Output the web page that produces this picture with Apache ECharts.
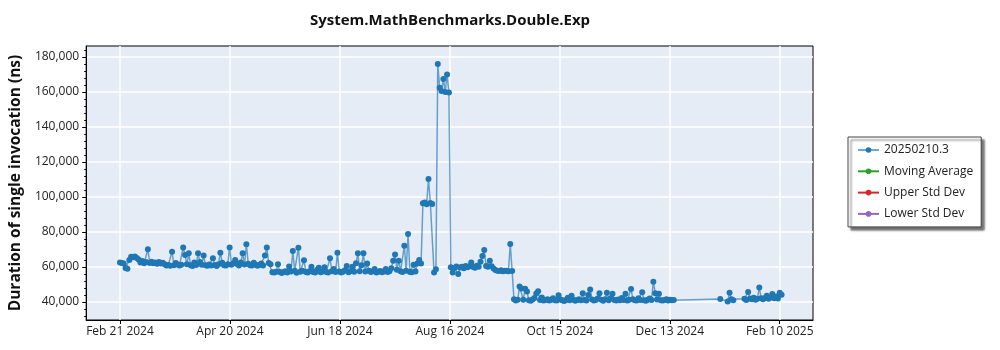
<!DOCTYPE html>
<html>
<head>
<meta charset="utf-8">
<title>System.MathBenchmarks.Double.Exp</title>
<script src="https://cdn.jsdelivr.net/npm/echarts@6/dist/echarts.min.js"></script>
<style>
  html, body { margin: 0; padding: 0; background: #ffffff; }
  #chart { width: 1000px; height: 350px; }
</style>
</head>
<body>
<div id="chart"></div>
<script>
// Benchmark run durations (ns), one value per day, grouped by stretch of runs.
const runsFromFeb21 = [
  62500, 62300, 62000, 59400, 59000, 64000, 65900, 65600, 66000, 65200,
  64300, 62600, 63400, 62200, 62800, 70100, 62300, 63000, 62100, 62500,
  61800, 62900, 62000, 62400, 61500, 60900, 61200, 60700, 68700, 61000,
  62300, 61400, 60800, 61300, 71200, 66800, 61500, 67800, 61000, 60600,
  62600, 61200, 67800, 62900, 61300, 66500, 61000, 60700, 61400, 60800,
  65000, 61200, 60600, 61500, 68200, 62400, 61000, 60800, 61600, 71200,
  61300, 62100, 64000, 61700, 60900, 62600, 67800, 61400, 73000, 61800,
  61000, 60800, 62400, 61300, 60700, 61200, 62000, 60900, 66500, 71200,
  62300, 61500
];
const runsFromMay13 = [
  57000, 56800, 57300, 61500, 57100, 56600, 57200, 57500,
  56900, 60300, 57400, 69100, 57800, 56700, 71000, 57300, 57900, 63800,
  57200, 56800, 57500, 60200, 57100, 56900, 58300, 59600, 57000, 57400,
  59800, 57200, 56900, 65000, 57600, 58900, 57100, 68200, 57400, 56800,
  57300, 58200, 60500, 57000, 57600, 60200, 57300, 62100, 67800, 57600,
  61000, 67800, 57400, 62000, 57800, 57100, 57500, 58800, 56900, 57300,
  57700, 57000, 57400, 58800, 57200, 57600, 59300, 63600, 67200, 58400,
  63600, 57500, 57100, 72200, 57800, 78900, 57200, 57000, 61300, 57400,
  62000, 64000, 62000
];
const runsFromAug02 = [
  96400, 96900, 95900, 110300, 96600, 96000, 56800, 58700,
  176000, 162400, 160600, 167400, 160000, 170000, 159700,
  59800, 56800, 59400, 60300, 56000, 59700, 60100, 59300, 60600, 59900,
  60400, 62500, 60000, 59600, 60700, 60200, 63000, 66300, 69700, 60500,
  60100, 63600, 60400, 59200, 58300, 57900, 57700, 58100, 57600, 57900,
  57800, 57600, 73100, 57700
];
const runsFromSep20 = [
  41500, 40900, 41300, 48800, 47700, 41300, 47600, 46000, 41000, 40700,
  41400, 42300, 44800, 46100, 41200, 42600, 40800, 41100, 41500, 40900,
  41300, 42100, 41000, 40800, 43800, 41400, 41000, 40600, 41200, 42400,
  41000, 43600, 41300, 40700, 41100, 41600, 41000, 45000, 41200, 40900,
  44000, 47200, 41400, 40800, 41100, 42000, 45000, 41300, 40700, 41500,
  45300, 41000, 42200, 44700, 41200, 40800, 41400, 41000, 42300, 41100,
  44700, 40900, 41300, 47400, 41600, 41000, 40800, 42100, 41200, 45500,
  41000, 40700, 41300, 42000, 41100, 51600, 45000, 41400, 44700, 41000,
  40800, 41200, 41500, 40900, 41300, 41000, 41200
];
const runsFromJan09 = [
  41700, null, null, null, 40300, 45300, 41600, 41000, null, null,
  null, null, null, 41800, 41200, 45700, 42000, 41500, 42400, 41300,
  41900, 48300, 42100, 41600, 42300, 43600, 41800, 42500, 44600, 42200,
  43200, 42000, 45300, 44200
];

// Axis ticks
const xTickLabels = ['Feb 21 2024', 'Apr 20 2024', 'Jun 18 2024', 'Aug 16 2024', 'Oct 15 2024', 'Dec 13 2024', 'Feb 10 2025'];
const yTickValues = [40000, 60000, 80000, 100000, 120000, 140000, 160000, 180000];
const yMinorTickValues = [
  32000, 36000, 44000, 48000, 52000, 56000, 64000, 68000, 72000, 76000,
  84000, 88000, 92000, 96000, 104000, 108000, 112000, 116000, 124000, 128000,
  132000, 136000, 144000, 148000, 152000, 156000, 164000, 168000, 172000, 176000,
  184000
];

const DAY = 86400000;
const firstTick = Date.UTC(2024, 1, 21);
const lastTick = Date.UTC(2025, 1, 10);
const tickStep = (lastTick - firstTick) / (xTickLabels.length - 1);
const xTickValues = xTickLabels.map((_, k) => firstTick + k * tickStep);

function toPoints(startIso, values) {
  const t0 = Date.parse(startIso + 'T00:00:00Z');
  const pts = [];
  values.forEach((v, i) => { if (v != null) pts.push([t0 + i * DAY, v]); });
  return pts;
}

const runPoints = [].concat(
  toPoints('2024-02-21', runsFromFeb21),
  toPoints('2024-05-13', runsFromMay13),
  toPoints('2024-08-02', runsFromAug02),
  toPoints('2024-09-20', runsFromSep20),
  toPoints('2025-01-09', runsFromJan09)
);

const FONT = '"Open Sans", "Noto Sans", sans-serif';
const yMin = 29700, yMax = 186300;

const chart = echarts.init(document.getElementById('chart'), null, { renderer: 'canvas' });
chart.setOption({
  animation: false,
  backgroundColor: '#ffffff',
  textStyle: { fontFamily: FONT },
  title: {
    text: 'System.MathBenchmarks.Double.Exp',
    left: 445,
    top: 8,
    textAlign: 'center',
    textStyle: { fontFamily: FONT, fontSize: 15, fontWeight: 'bold', color: '#111' }
  },
  legend: {
    orient: 'vertical',
    left: 848,
    top: 137,
    padding: [7, 8, 7, 9],
    itemGap: 9.3,
    itemWidth: 21,
    itemHeight: 7,
    backgroundColor: '#ffffff',
    borderColor: '#444',
    borderWidth: 1,
    shadowColor: 'rgba(0,0,0,0.55)',
    shadowBlur: 2,
    shadowOffsetX: 3,
    shadowOffsetY: 3,
    textStyle: { fontFamily: FONT, fontSize: 12, color: '#222' },
    data: ['20250210.3', 'Moving Average', 'Upper Std Dev', 'Lower Std Dev']
  },
  grid: {
    left: 76, right: 187, top: 46, bottom: 30,
    show: true,
    backgroundColor: '#e5ecf6',
    borderColor: '#000',
    borderWidth: 1
  },
  xAxis: {
    type: 'value',
    min: firstTick - 18.2 * DAY,
    max: firstTick + 372.9 * DAY,
    axisLine: { show: true, lineStyle: { color: '#000', width: 1 } },
    axisTick: { show: true, length: 4, customValues: xTickValues, lineStyle: { color: '#000' } },
    axisLabel: {
      customValues: xTickValues,
      margin: 6,
      fontFamily: FONT, fontSize: 12, color: '#222',
      formatter: (v) => {
        const k = Math.round((v - firstTick) / tickStep);
        return xTickLabels[k] || '';
      }
    },
    splitLine: { show: true, lineStyle: { color: '#ffffff', width: 1.5 } }
  },
  yAxis: [{
    type: 'value',
    min: yMin,
    max: yMax,
    name: 'Duration of single invocation (ns)',
    nameLocation: 'middle',
    nameGap: 56,
    nameTextStyle: { fontFamily: FONT, fontSize: 15.5, fontWeight: 'bold', color: '#111' },
    axisLine: { show: true, lineStyle: { color: '#000', width: 1 } },
    axisTick: { show: true, length: 4, customValues: yTickValues, lineStyle: { color: '#000' } },
    axisLabel: {
      customValues: yTickValues,
      margin: 7,
      fontFamily: FONT, fontSize: 12, color: '#222',
      formatter: (v) => v.toLocaleString('en-US')
    },
    splitLine: { show: true, lineStyle: { color: '#ffffff', width: 1.5 } }
  }, {
    type: 'value',
    min: yMin,
    max: yMax,
    position: 'left',
    axisLine: { show: false },
    axisLabel: { show: false },
    splitLine: { show: false },
    axisTick: { show: true, length: 2, customValues: yMinorTickValues, lineStyle: { color: '#000' } }
  }],
  series: [{
    name: '20250210.3',
    type: 'line',
    data: runPoints,
    showSymbol: true,
    showAllSymbol: true,
    symbol: 'circle',
    symbolSize: 6,
    itemStyle: { color: '#1f77b4' },
    lineStyle: { color: '#1f77b4', width: 1.5, opacity: 0.65 },
    emphasis: { disabled: true }
  }, {
    name: 'Moving Average',
    type: 'line',
    data: [],
    symbol: 'circle',
    itemStyle: { color: '#2ca02c' },
    lineStyle: { color: '#2ca02c', width: 1.5 }
  }, {
    name: 'Upper Std Dev',
    type: 'line',
    data: [],
    symbol: 'circle',
    itemStyle: { color: '#d62728' },
    lineStyle: { color: '#d62728', width: 1.5 }
  }, {
    name: 'Lower Std Dev',
    type: 'line',
    data: [],
    symbol: 'circle',
    itemStyle: { color: '#9467bd' },
    lineStyle: { color: '#9467bd', width: 1.5 }
  }]
});
</script>
</body>
</html>
